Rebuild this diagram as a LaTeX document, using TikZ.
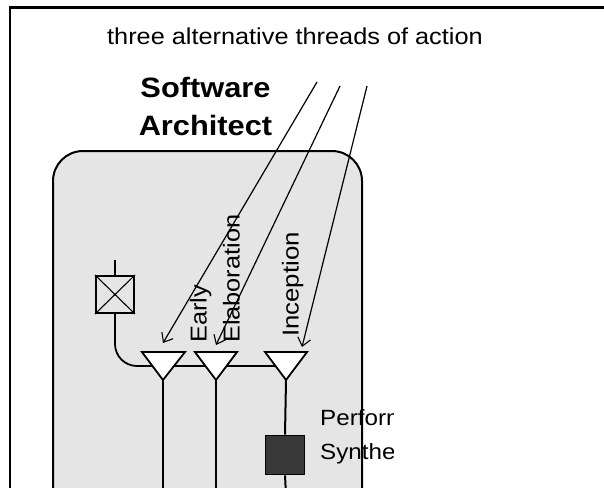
\documentclass[tikz,border=0pt]{standalone}
\usepackage{fontspec}
\setmainfont{Liberation Sans}
\usetikzlibrary{arrows.meta}
\begin{document}
\begin{tikzpicture}[x=1pt,y=-1pt,
  reg/.style={inner sep=0pt, font=\fontsize{23}{27}\selectfont},
  regs/.style={inner sep=0pt, font=\fontsize{22}{26}\selectfont},
  boldt/.style={inner sep=0pt, font=\fontsize{28}{32}\selectfont\bfseries},
  thread/.style={line width=1.2pt, -{Straight Barb[length=8pt,width=13pt,line width=1.1pt]}},
  tri/.style={draw, fill=white, line width=1.8pt, line join=miter},
  vline/.style={line width=2pt},
  panel/.style={draw, fill=black!10, line width=2pt, rounded corners=30pt}]
\useasboundingbox (0,0) rectangle (604,487);
\clip (0,0) rectangle (604,487);
% outer frame (top and left only)
\draw[line width=2.2pt] (10,495) -- (10,7.5) -- (610,7.5);
% title
\node[reg, anchor=base west] (title) at (107,45) {\scalebox{1.1}[1]{three alternative threads of action}};
\node[boldt, anchor=base] (sa1) at (205.5,97) {\scalebox{1.1}[1]{Software}};
\node[boldt, anchor=base] (sa2) at (205.5,135) {\scalebox{1.1}[1]{Architect}};
% panel
\draw[panel] (53,530) -- (53,151) -- (362,151) -- (362,530);
% coordinates
\coordinate (a1) at (163,380);
\coordinate (a2) at (216,380);
\coordinate (a3) at (286,380);
\coordinate (h3) at (286,366);
\coordinate (b1) at (163,495);
\coordinate (b2) at (216,495);
\coordinate (b3) at (286,495);
\coordinate (s1) at (317,82);
\coordinate (s2) at (340,86);
\coordinate (s3) at (367,86);
\coordinate (e1) at (163,343);
\coordinate (e2) at (216,345);
\coordinate (e3) at (302,347);
% box with X
\node[draw, line width=1.8pt, minimum width=38pt, minimum height=37pt, inner sep=0pt] (sw) at (115,294.5) {};
\draw[line width=1.1pt] (sw.north west) -- (sw.south east) (sw.north east) -- (sw.south west);
\coordinate (swtop) at (115,260);
\draw[line width=1.6pt] (swtop) -- (sw.north);
\draw[line width=1.8pt, rounded corners=22pt] (sw.south) |- (h3);
% triangles
\draw[tri] (142,352) -- (185,352) -- (a1) -- cycle;
\draw[tri] (195,352) -- (237,352) -- (a2) -- cycle;
\draw[tri] (265,352) -- (307,352) -- (a3) -- cycle;
% dark square
\node[draw, fill=black!78, minimum size=39pt, inner sep=0pt, line width=1.6pt] (perf) at (285,455) {};
% vertical lines
\draw[vline] (a1) -- (b1);
\draw[vline] (a2) -- (b2);
\draw[vline] (a3) -- (perf.north);
\draw[vline] (perf.south) -- (b3);
% thread arrows
\draw[thread] (s1) -- (e1);
\draw[thread] (s2) -- (e2);
\draw[thread] (s3) -- (e3);
% rotated labels
\node[reg, rotate=90, anchor=base west] (early) at (206.5,343) {\scalebox{1.1}[1]{Early}};
\node[reg, rotate=90, anchor=base west] (elab) at (239.5,343) {\scalebox{1.1}[1]{Elaboration}};
\node[reg, rotate=90, anchor=base west] (incep) at (298.5,337) {\scalebox{1.12}[1]{Inception}};
% clipped labels
\begin{scope}
\clip (300,380) rectangle (393,487);
\node[regs, anchor=base west] (perf1) at (320,425) {\scalebox{1.1}[1]{Performance}};
\node[regs, anchor=base west] (perf2) at (320,459) {\scalebox{1.1}[1]{Synthesis}};
\end{scope}
\end{tikzpicture}
\end{document}
